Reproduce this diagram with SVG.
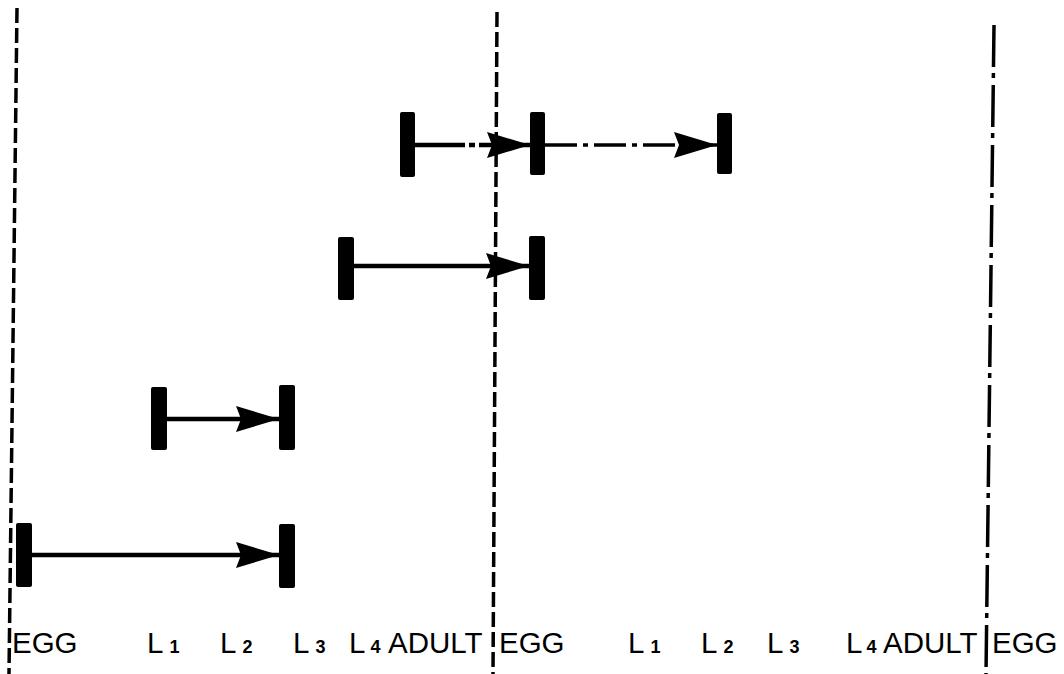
<svg xmlns="http://www.w3.org/2000/svg" width="1064" height="674" viewBox="0 0 1064 674">
<style>
.bar{fill:#000}
.div{stroke:#000;stroke-width:3.5;fill:none}
.dash{stroke-dasharray:15 5}
.dashdot{stroke-dasharray:42 6 5 7}
.arr{stroke:#000;stroke-width:4.5;fill:none;marker-end:url(#head)}
.arrdd{stroke:#000;stroke-width:3.5;fill:none;stroke-dasharray:32 6 5 6;marker-end:url(#head)}
.lbl{font-family:"Liberation Sans",Arial,sans-serif;font-size:29.5px;fill:#000}
.sub{font-size:18px;font-weight:bold}
</style>
<defs>
<marker id="head" markerUnits="userSpaceOnUse" markerWidth="50" markerHeight="30" viewBox="0 -15 45 30" refX="43" refY="0" orient="auto">
<path d="M0,-13 L43,0 L0,13 L5,0 Z" fill="#000"/>
</marker>
</defs>
<rect width="1064" height="674" fill="#fff"/>
<g id="dividers">
<line class="div dash" x1="17" y1="8" x2="9" y2="674"/>
<line class="div dash" x1="497" y1="12" x2="493" y2="674"/>
<line class="div dashdot" x1="994" y1="25" x2="986" y2="674"/>
</g>
<g id="connectors">
<path class="arrdd" d="M413,145 L530,145" style="stroke-width:4.5;stroke-dasharray:52 4 6 4"/>
<path class="arrdd" d="M545,145 L717,145"/>
<path class="arr" d="M353,266 L529,266"/>
<path class="arr" d="M166,419 L279,419"/>
<path class="arr" d="M31,555 L279,555"/>
</g>
<g id="row1">
<rect class="bar" x="400" y="112" width="15" height="65" rx="2"/>
<rect class="bar" x="530" y="112" width="15" height="63" rx="2"/>
<rect class="bar" x="717" y="113" width="15" height="61" rx="2"/>
</g>
<g id="row2">
<rect class="bar" x="338" y="237" width="16" height="63" rx="2"/>
<rect class="bar" x="529" y="236" width="16" height="64" rx="2"/>
</g>
<g id="row3">
<rect class="bar" x="151" y="387" width="16" height="63" rx="2"/>
<rect class="bar" x="279" y="385" width="16" height="65" rx="2"/>
</g>
<g id="row4">
<rect class="bar" x="16" y="523" width="16" height="64" rx="2"/>
<rect class="bar" x="279" y="524" width="16" height="64" rx="2"/>
</g>
<g id="labels">
<text class="lbl" x="12" y="653">EGG</text>
<text class="lbl" x="147" y="653">L<tspan class="sub" dx="6">1</tspan></text>
<text class="lbl" x="220" y="653">L<tspan class="sub" dx="6">2</tspan></text>
<text class="lbl" x="293" y="653">L<tspan class="sub" dx="6">3</tspan></text>
<text class="lbl" x="349" y="653">L<tspan class="sub" dx="5">4</tspan></text>
<text class="lbl" x="388" y="653">ADULT</text>
<text class="lbl" x="499" y="653">EGG</text>
<text class="lbl" x="628" y="653">L<tspan class="sub" dx="6">1</tspan></text>
<text class="lbl" x="701" y="653">L<tspan class="sub" dx="6">2</tspan></text>
<text class="lbl" x="767" y="653">L<tspan class="sub" dx="6">3</tspan></text>
<text class="lbl" x="846" y="653">L<tspan class="sub" dx="4">4</tspan></text>
<text class="lbl" x="883" y="653">ADULT</text>
<text class="lbl" x="992" y="653">EGG</text>
</g>
</svg>
